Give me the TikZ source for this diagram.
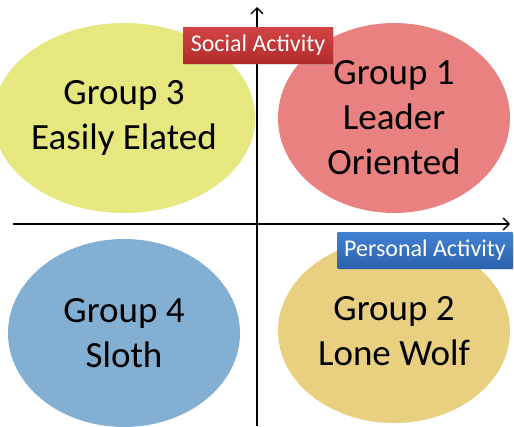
\documentclass[tikz,border=0pt]{standalone}
\usepackage{fontspec}
\setmainfont{Carlito}
\usepackage{tikz}
\usetikzlibrary{shapes.geometric,shadows,arrows.meta}

\definecolor{grpyellow}{HTML}{E7E780}
\definecolor{grpred}{HTML}{E98181}
\definecolor{grpblue}{HTML}{82AFD2}
\definecolor{grporange}{HTML}{E9CF80}
\definecolor{socialtop}{HTML}{D24444}
\definecolor{socialbot}{HTML}{B22C2C}
\definecolor{personaltop}{HTML}{4282D2}
\definecolor{personalbot}{HTML}{2C62AE}

\begin{document}
\begin{tikzpicture}[x=1pt,y=-1pt,->,>={Straight Barb[length=6pt,width=12pt]},
			group node/.style={ellipse,minimum width=232pt,minimum height=190pt,inner sep=0pt,
				align=center,font=\fontsize{37}{45}\selectfont},
			axis label/.style={text=white,minimum height=36pt,inner sep=0pt,
				font=\fontsize{24}{28}\selectfont,
				drop shadow={opacity=0.25,shadow xshift=1pt,shadow yshift=-2pt}}]
			\useasboundingbox (0,0) rectangle (514,426);
			% the four groups
			\node[group node, fill=grpyellow] (3) at (124,118) {Group 3\\Easily Elated};
			\node[group node, fill=grpred] (1) at (394,118) {Group 1\\Leader\\Oriented};
			\node[group node, fill=grpblue, minimum height=188pt] (4) at (124,333) {Group 4\\Sloth};
			\node[group node, fill=grporange, minimum height=184pt] (2) at (394,331) {Group 2\\Lone Wolf};
			
			% axes
			\coordinate (xstart) at (13,224);
			\coordinate (xend) at (510,224);
			\coordinate (ystart) at (257,426);
			\coordinate (yend) at (257,7);
			\draw[line width=1.4pt] (xstart) -- (xend);
			\draw[line width=1.4pt] (ystart) -- (yend);
			
			\node[axis label, top color=socialtop, bottom color=socialbot, minimum width=150pt] (social) at (258,45) {Social Activity};
			\node[axis label, top color=personaltop, bottom color=personalbot, minimum width=175pt] (personal) at (425,250) {Personal Activity};
		\end{tikzpicture}
\end{document}
